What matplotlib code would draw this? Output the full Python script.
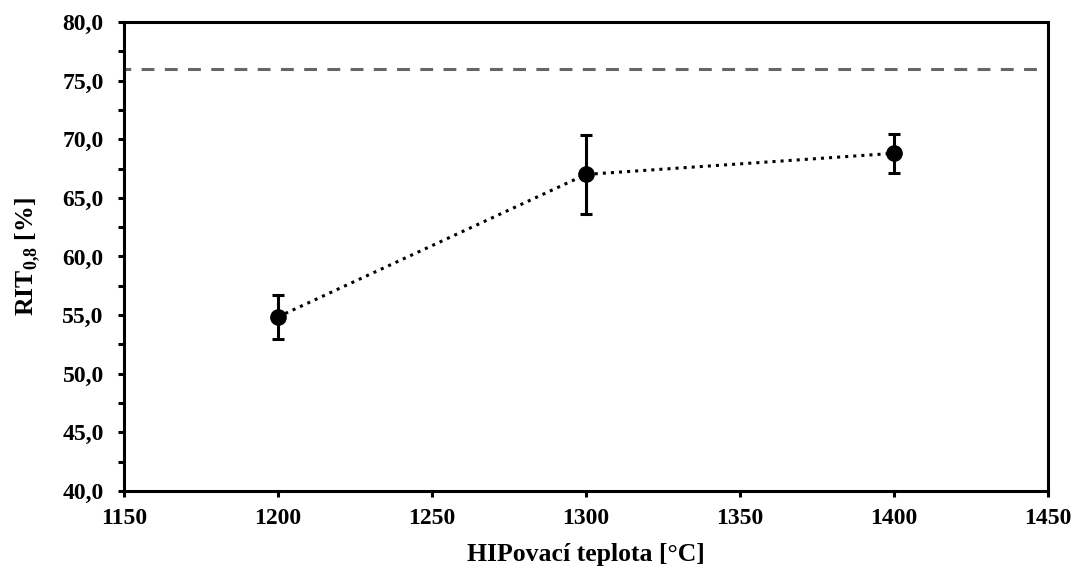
import numpy as np
import matplotlib.pyplot as plt
from matplotlib.ticker import MultipleLocator

temps = [1200, 1300, 1400]
rit = [54.85, 67.0, 68.8]
rit_err = [1.9, 3.4, 1.65]
limit = 76.0

plt.rcParams['font.family'] = ['Liberation Serif', 'DejaVu Serif']
plt.rcParams['font.weight'] = 'bold'
plt.rcParams['mathtext.fontset'] = 'custom'
plt.rcParams['mathtext.rm'] = 'Liberation Serif:bold'
plt.rcParams['mathtext.bf'] = 'Liberation Serif:bold'

fig = plt.figure(figsize=(10.75, 5.7), dpi=100)
ax = fig.add_axes([0.1153, 0.1386, 0.8595, 0.8228])

ax.axhline(limit, color='#666666', lw=2.2, ls=(2, (4.2, 3.4)))
ax.errorbar(temps, rit, yerr=rit_err, fmt='o', color='black', ms=11,
            ls=':', lw=2.2, elinewidth=2.2, capsize=4.5, capthick=2.2, zorder=3)

ax.set_xlim(1150, 1450)
ax.set_ylim(40, 80)
ax.xaxis.set_major_locator(MultipleLocator(50))
ax.yaxis.set_minor_locator(MultipleLocator(2.5))
yt = np.arange(40, 80.1, 5)
ax.set_yticks(yt)
ax.set_yticklabels([f'{v:.1f}'.replace('.', ',') for v in yt])

for s in ax.spines.values():
    s.set_linewidth(2.2)
ax.tick_params(axis='x', direction='out', length=4, width=2.2, labelsize=17, pad=8)
ax.tick_params(axis='y', which='major', direction='out', length=4.5, width=2.2, labelsize=17, pad=10)
ax.tick_params(axis='y', which='minor', direction='out', length=4.5, width=2.2)
for lab in ax.get_xticklabels() + ax.get_yticklabels():
    lab.set_fontweight('bold')

ax.set_xlabel('HIPovací teplota [°C]', fontsize=18.5, fontweight='bold', labelpad=10)
ax.set_ylabel(r'RIT$_{\mathbf{0{,}8}}$ [%]', fontsize=18.5, fontweight='bold', labelpad=14)

fig.savefig('out.png', dpi=100)
